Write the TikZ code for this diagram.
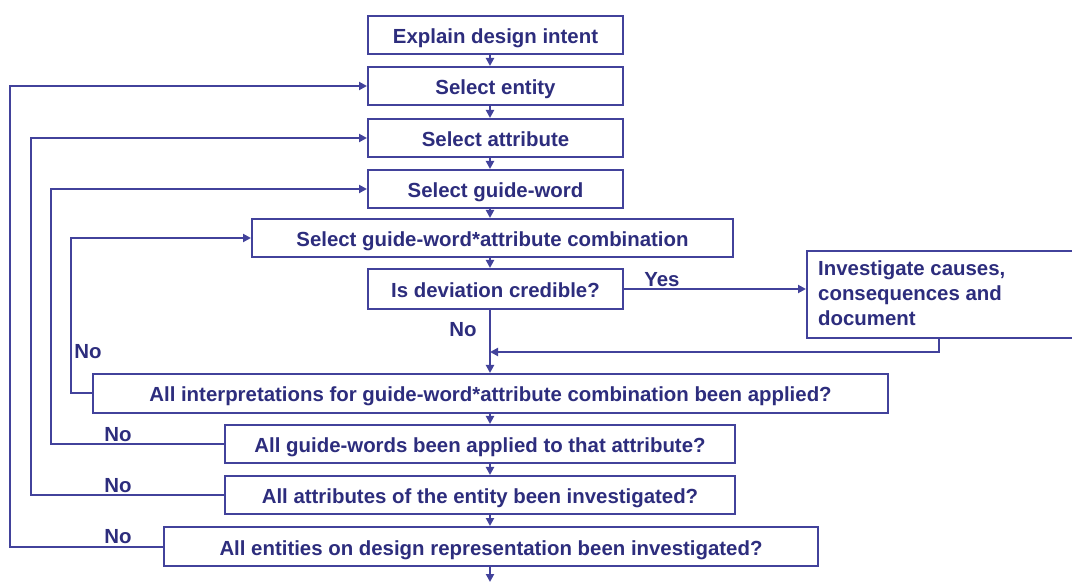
\documentclass[tikz,border=0pt]{standalone}
\usepackage{fontspec}
\setmainfont{Liberation Sans}
\usetikzlibrary{arrows.meta}
\definecolor{lc}{RGB}{66,66,155}
\definecolor{tc}{RGB}{45,45,125}
\begin{document}
\begin{tikzpicture}[x=1pt,y=-1pt,
  box/.style={draw=lc,line width=2pt,fill=white,text=tc,
    font=\fontsize{20.4}{25}\selectfont\bfseries,inner sep=0pt,anchor=north west,
    text height=17pt,text depth=0pt},
  lbl/.style={text=tc,font=\fontsize{20.4}{25}\selectfont\bfseries,inner sep=0pt},
  conn/.style={draw=lc,line width=2pt},
  arr/.style={conn,-{Triangle[length=8pt,width=8pt]}}]
\clip (0,0) rectangle (1072,585);
\fill[white] (0,0) rectangle (1072,585);
\coordinate (ax) at (490,0);
\coordinate (l1) at (71,0);
\coordinate (l2) at (51,0);
\coordinate (l3) at (31,0);
\coordinate (l4) at (10,0);
\coordinate (rx) at (939,0);
\coordinate (join) at (490,352);
\coordinate (end) at (490,582);

\node[box,minimum width=255pt,minimum height=38pt] (b1) at (367,15) {Explain design intent};
\node[box,minimum width=255pt,minimum height=38pt] (b2) at (367,66) {Select entity};
\node[box,minimum width=255pt,minimum height=38pt] (b3) at (367,118) {Select attribute};
\node[box,minimum width=255pt,minimum height=38pt] (b4) at (367,169) {Select guide-word};
\node[box,minimum width=481pt,minimum height=38pt] (b5) at (251,218) {Select guide-word*attribute combination};
\node[box,minimum width=255pt,minimum height=40pt] (b6) at (367,268) {Is deviation credible?};
\node[box,minimum width=300pt,minimum height=87pt] (b7) at (806,250) {};
\node[lbl,anchor=north west,align=left] (b7t) at (818,261) {Investigate causes,\\consequences and\\document};
\node[box,minimum width=795pt,minimum height=39pt] (b8) at (92,373) {All interpretations for guide-word*attribute combination been applied?};
\node[box,minimum width=510pt,minimum height=38pt] (b9) at (224,424) {All guide-words been applied to that attribute?};
\node[box,minimum width=510pt,minimum height=38pt] (b10) at (224,475) {All attributes of the entity been investigated?};
\node[box,minimum width=654pt,minimum height=39pt] (b11) at (163,526) {All entities on design representation been investigated?};

\draw[arr] (b1.south -| ax) -- (b2.north -| ax);
\draw[arr] (b2.south -| ax) -- (b3.north -| ax);
\draw[arr] (b3.south -| ax) -- (b4.north -| ax);
\draw[arr] (b4.south -| ax) -- (b5.north -| ax);
\draw[arr] (b5.south -| ax) -- (b6.north -| ax);
\draw[arr] (b6.south -| ax) -- (b8.north -| ax);
\draw[arr] (b8.south -| ax) -- (b9.north -| ax);
\draw[arr] (b9.south -| ax) -- (b10.north -| ax);
\draw[arr] (b10.south -| ax) -- (b11.north -| ax);
\draw[arr] (b11.south -| ax) -- (end);

\draw[arr] (b6.east) -- (b6.east -| b7.west);
\draw[arr] (b7.south -| rx) |- (join);

\draw[arr] (b8.west) -- (b8.west -| l1) |- (b5.west);
\draw[arr] (b9.west) -- (b9.west -| l2) |- (b4.west);
\draw[arr] (b10.west) -- (b10.west -| l3) |- (b3.west);
\draw[arr] (b11.west) -- (b11.west -| l4) |- (b2.west);

\node[lbl] (yes) at (662,280) {Yes};
\node[lbl] (no0) at (463,330) {No};
\node[lbl] (no1) at (88,352) {No};
\node[lbl] (no2) at (118,435) {No};
\node[lbl] (no3) at (118,486) {No};
\node[lbl] (no4) at (118,537) {No};
\end{tikzpicture}
\end{document}
